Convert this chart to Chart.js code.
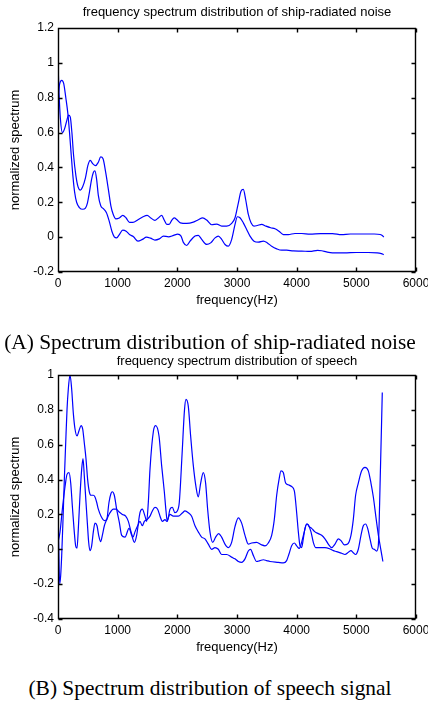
<!DOCTYPE html>
<html>
<head>
<meta charset="utf-8">
<script src="https://cdn.jsdelivr.net/npm/chart.js@4"></script>
<style>
  body { margin: 0; width: 428px; height: 704px; background: #fff; position: relative; overflow: hidden; }
  .box { position: absolute; left: 0; width: 428px; height: 320px; }
  #boxA { top: 0; }
  #boxB { top: 350px; }
  .cap { position: absolute; left: 0; width: 420px; text-align: center; color: #000;
         font-family: "Liberation Serif", "Times New Roman", serif; font-size: 21.4px; line-height: 24px; }
  #capA { top: 330px; }
  #capB { top: 676px; }
</style>
</head>
<body>
<div class="box" id="boxA"><canvas id="chartA" width="428" height="320"></canvas></div>
<div class="box" id="boxB"><canvas id="chartB" width="428" height="320"></canvas></div>
<div class="cap" id="capA">(A) Spectrum distribution of ship-radiated noise</div>
<div class="cap" id="capB">(B) Spectrum distribution of speech signal</div>
<script>
// axis ranges
const freqMin = 0, freqMax = 6000, freqStep = 1000;
const shipYMin = -0.2, shipYMax = 1.2;
const speechYMin = -0.4, speechYMax = 1;
const yStep = 0.2;

// (A) ship-radiated noise, upper curve
const shipUpperHz = [0, 17, 40, 74, 108, 148, 176, 205, 233, 261, 301, 335, 375, 415, 460, 500, 540, 585, 630, 676,
  716, 755, 800, 846, 886, 926, 971, 1028, 1085, 1142, 1198, 1255, 1340, 1425, 1494, 1556, 1624, 1681, 1738, 1778,
  1823, 1863, 1908, 1948, 1994, 2050, 2157, 2268, 2352, 2425, 2492, 2576, 2660, 2743, 2827, 2911, 2967, 3023, 3067,
  3106, 3145, 3190, 3235, 3285, 3341, 3414, 3486, 3565, 3637, 3704, 3777, 3860, 3972, 4084, 4224, 4400, 4600, 4750,
  4900, 5100, 5300, 5400, 5440, 5460];
const shipUpperVal = [1.0, 0.83, 0.68, 0.60, 0.62, 0.67, 0.70, 0.69, 0.60, 0.47, 0.35, 0.29, 0.27, 0.29, 0.34, 0.41,
  0.44, 0.42, 0.41, 0.43, 0.46, 0.45, 0.37, 0.27, 0.18, 0.13, 0.105, 0.11, 0.125, 0.11, 0.085, 0.085, 0.10, 0.117,
  0.125, 0.11, 0.096, 0.11, 0.125, 0.10, 0.073, 0.073, 0.098, 0.11, 0.10, 0.082, 0.079, 0.086, 0.10, 0.11, 0.098,
  0.071, 0.075, 0.063, 0.063, 0.079, 0.111, 0.197, 0.264, 0.274, 0.216, 0.13, 0.082, 0.063, 0.067, 0.073, 0.063,
  0.054, 0.048, 0.034, 0.015, 0.015, 0.021, 0.021, 0.017, 0.02, 0.02, 0.014, 0.018, 0.018, 0.018, 0.015, 0.008, 0.0];

// (A) ship-radiated noise, lower curve
const shipLowerHz = [0, 28, 62, 97, 131, 165, 193, 222, 250, 278, 312, 358, 415, 460, 494, 528, 562, 591, 619, 648,
  676, 716, 761, 812, 858, 903, 943, 983, 1028, 1085, 1142, 1198, 1266, 1340, 1414, 1482, 1551, 1624, 1698, 1766,
  1852, 1937, 2005, 2062, 2101, 2157, 2213, 2296, 2352, 2408, 2492, 2559, 2632, 2687, 2743, 2799, 2855, 2911, 2967,
  3006, 3050, 3106, 3162, 3218, 3285, 3358, 3442, 3509, 3581, 3665, 3749, 3832, 3944, 4084, 4224, 4350, 4420, 4500,
  4600, 4800, 5000, 5200, 5350, 5420, 5460];
const shipLowerVal = [0.81, 0.88, 0.90, 0.88, 0.80, 0.71, 0.60, 0.47, 0.35, 0.26, 0.20, 0.17, 0.16, 0.167, 0.197,
  0.26, 0.33, 0.37, 0.38, 0.33, 0.24, 0.18, 0.163, 0.14, 0.092, 0.034, 0.002, -0.004, 0.015, 0.04, 0.034, 0.015,
  0.002, -0.023, -0.013, 0, -0.006, -0.017, -0.01, 0.006, 0.002, 0.01, 0.017, 0.006, -0.03, -0.048, -0.023, 0.006,
  0.01, -0.013, -0.042, -0.033, -0.004, 0.006, -0.013, -0.042, -0.052, -0.013, 0.073, 0.117, 0.111, 0.082, 0.044,
  0.006, -0.023, -0.029, -0.023, -0.033, -0.052, -0.067, -0.075, -0.075, -0.079, -0.08, -0.082, -0.076, -0.078,
  -0.085, -0.09, -0.09, -0.088, -0.088, -0.09, -0.095, -0.1];

// (B) speech, curve with the tall peaks
const speechPHz = [0, 11, 28, 45, 62, 84, 106, 129, 151, 173, 201, 229, 257, 285, 319, 352, 386, 414, 441, 469, 497,
  525, 553, 592, 620, 648, 676, 721, 777, 816, 855, 888, 910, 944, 983, 1030, 1067, 1123, 1190, 1235, 1280, 1318,
  1374, 1413, 1458, 1486, 1514, 1542, 1600, 1637, 1693, 1737, 1782, 1810, 1832, 1877, 1916, 1960, 1999, 2033, 2080,
  2120, 2145, 2184, 2223, 2268, 2312, 2351, 2391, 2435, 2474, 2508, 2547, 2592, 2642, 2692, 2742, 2798, 2854, 2910,
  2966, 3022, 3078, 3134, 3189, 3245, 3329, 3413, 3469, 3525, 3581, 3625, 3665, 3704, 3737, 3776, 3815, 3860, 3916,
  3961, 4000, 4028, 4056, 4083, 4111, 4139, 4178, 4212, 4251, 4307, 4363, 4419, 4474, 4530, 4586, 4642, 4698, 4743,
  4798, 4854, 4910, 4949, 4988, 5033, 5089, 5145, 5201, 5245, 5285, 5330, 5370, 5410, 5445];
const speechPVal = [0.21, 0.04, -0.2, -0.15, -0.036, 0.17, 0.40, 0.61, 0.80, 0.92, 1.0, 0.92, 0.78, 0.69, 0.65, 0.68,
  0.71, 0.69, 0.61, 0.52, 0.40, 0.33, 0.31, 0.31, 0.30, 0.27, 0.23, 0.19, 0.165, 0.17, 0.27, 0.32, 0.33, 0.31, 0.23,
  0.15, 0.08, 0.07, 0.12, 0.08, 0.04, 0.08, 0.21, 0.23, 0.19, 0.16, 0.27, 0.46, 0.68, 0.71, 0.65, 0.48, 0.33, 0.22,
  0.16, 0.23, 0.24, 0.21, 0.22, 0.27, 0.55, 0.80, 0.86, 0.82, 0.65, 0.48, 0.36, 0.30, 0.38, 0.44, 0.38, 0.23, 0.10,
  0.04, 0.07, 0.09, 0.07, 0.03, 0.01, 0.04, 0.13, 0.18, 0.15, 0.08, 0.03, 0.036, 0.04, 0.025, 0.02, 0.036, 0.08,
  0.17, 0.31, 0.40, 0.45, 0.44, 0.38, 0.37, 0.36, 0.335, 0.21, 0.10, 0.02, 0.01, 0.06, 0.12, 0.145, 0.13, 0.12, 0.10,
  0.09, 0.08, 0.06, 0.03, 0.01, 0.03, 0.06, 0.05, 0.025, 0.03, 0.08, 0.17, 0.31, 0.38, 0.45, 0.47, 0.45, 0.38, 0.30,
  0.18, 0.08, 0.0, -0.07];

// (B) speech, second curve
const speechQHz = [0, 34, 73, 118, 151, 185, 213, 240, 268, 296, 319, 341, 369, 397, 419, 441, 469, 492, 514, 536,
  564, 592, 620, 654, 682, 715, 743, 777, 816, 872, 927, 972, 1022, 1078, 1134, 1179, 1224, 1257, 1290, 1335, 1374,
  1413, 1447, 1492, 1542, 1581, 1626, 1670, 1710, 1749, 1793, 1821, 1877, 1932, 2016, 2089, 2128, 2184, 2240, 2296,
  2351, 2407, 2463, 2519, 2575, 2631, 2687, 2742, 2826, 2910, 2966, 3022, 3078, 3134, 3189, 3228, 3273, 3329, 3385,
  3441, 3497, 3552, 3692, 3776, 3832, 3871, 3916, 3961, 4000, 4044, 4083, 4128, 4167, 4195, 4240, 4279, 4318, 4391,
  4474, 4558, 4614, 4670, 4754, 4810, 4866, 4910, 4949, 4988, 5033, 5078, 5117, 5156, 5190, 5229, 5268, 5300, 5340,
  5368, 5400, 5435];
const speechQVal = [0.04, 0.10, 0.23, 0.36, 0.43, 0.44, 0.38, 0.25, 0.12, 0.02, 0.006, 0.12, 0.31, 0.46, 0.52, 0.42,
  0.27, 0.15, 0.04, -0.008, 0.02, 0.10, 0.15, 0.135, 0.08, 0.044, 0.08, 0.135, 0.17, 0.21, 0.23, 0.23, 0.215, 0.20,
  0.19, 0.16, 0.10, 0.07, 0.10, 0.135, 0.16, 0.135, 0.16, 0.17, 0.19, 0.22, 0.24, 0.23, 0.19, 0.16, 0.17, 0.16, 0.20,
  0.19, 0.19, 0.21, 0.22, 0.21, 0.19, 0.135, 0.10, 0.07, 0.06, 0.03, 0.0, 0.01, 0.0, -0.03, -0.03, -0.045, -0.055,
  -0.07, -0.075, -0.055, -0.01, 0.0, -0.035, -0.07, -0.065, -0.06, -0.065, -0.07, -0.075, -0.078, -0.065, -0.027,
  0.02, 0.036, 0.02, 0.005, 0.04, 0.10, 0.145, 0.14, 0.10, 0.04, 0.01, 0.01, 0.01, 0.002, -0.008, -0.013, -0.023,
  -0.03, -0.017, -0.008, -0.02, -0.03, 0.0, 0.08, 0.135, 0.145, 0.12, 0.06, 0.006, 0.0, -0.01, 0.02, 0.4, 0.9];

Chart.defaults.font.family = '"Liberation Sans", Arial, sans-serif';
Chart.defaults.color = '#000';

const lineBlue = '#0000ff';

// MATLAB style box with inward tick marks on all four sides
const framePlugin = {
  id: 'frame',
  afterDraw(chart) {
    const { ctx, chartArea: a, scales: { x, y } } = chart;
    const L = Math.round(a.left) + 0.5, R = Math.round(a.right) - 0.5;
    const T = Math.round(a.top) + 0.5, B = Math.round(a.bottom) - 0.5;
    ctx.save();
    ctx.strokeStyle = '#000';
    ctx.lineWidth = 1.4;
    ctx.beginPath();
    ctx.rect(L, T, R - L, B - T);
    x.ticks.forEach(t => {
      const px = Math.round(x.getPixelForValue(t.value)) + 0.5;
      ctx.moveTo(px, B); ctx.lineTo(px, B - 4);
      ctx.moveTo(px, T); ctx.lineTo(px, T + 4);
    });
    y.ticks.forEach(t => {
      const py = Math.round(y.getPixelForValue(t.value)) + 0.5;
      ctx.moveTo(L, py); ctx.lineTo(L + 4, py);
      ctx.moveTo(R, py); ctx.lineTo(R - 4, py);
    });
    ctx.stroke();
    ctx.restore();
  }
};

function toPoints(hz, val) {
  return hz.map((h, i) => ({ x: h, y: val[i] }));
}

function makeChart(id, title, yMin, yMax, curves, g) {
  return new Chart(document.getElementById(id), {
    type: 'scatter',
    data: {
      datasets: curves.map(c => ({
        data: toPoints(c[0], c[1]),
        showLine: true,
        borderColor: lineBlue,
        borderWidth: 1.2,
        pointRadius: 0,
        cubicInterpolationMode: 'monotone',
        fill: false
      }))
    },
    options: {
      responsive: false,
      animation: false,
      layout: { padding: { left: 7.2, right: 12, top: 0, bottom: g.bottomPad } },
      plugins: {
        legend: { display: false },
        tooltip: { enabled: false },
        title: {
          display: true,
          text: title,
          fullSize: false,
          color: '#000',
          font: { size: 13, weight: 'normal' },
          padding: { top: g.titleTop, bottom: g.titleBottom }
        }
      },
      scales: {
        x: {
          type: 'linear',
          min: freqMin,
          max: freqMax,
          grid: { display: false, drawTicks: false },
          border: { display: false },
          ticks: { stepSize: freqStep, padding: 4, maxRotation: 0, font: { size: 12 }, callback: v => String(v) },
          title: { display: true, text: 'frequency(Hz)', font: { size: 13 }, padding: 0 },
          afterFit: s => { s.height = g.xH; s.paddingRight = 0; s.paddingLeft = 0; }
        },
        y: {
          min: yMin,
          max: yMax,
          grid: { display: false, drawTicks: false },
          border: { display: false },
          ticks: { stepSize: yStep, padding: 4, font: { size: 12 }, callback: v => String(Math.round(v * 10) / 10) },
          title: { display: true, text: 'normalized spectrum', font: { size: 13 }, padding: 0 },
          afterFit: s => { s.width = 50.8; }
        }
      }
    },
    plugins: [framePlugin]
  });
}

makeChart('chartA', 'frequency spectrum distribution of ship-radiated noise', shipYMin, shipYMax,
  [[shipUpperHz, shipUpperVal], [shipLowerHz, shipLowerVal]],
  { titleTop: 4.7, titleBottom: 7.7, xH: 35.8, bottomPad: 12.2 });

makeChart('chartB', 'frequency spectrum distribution of speech', speechYMin, speechYMax,
  [[speechPHz, speechPVal], [speechQHz, speechQVal]],
  { titleTop: 3.2, titleBottom: 6.2, xH: 36.5, bottomPad: 14.5 });
</script>
</body>
</html>
